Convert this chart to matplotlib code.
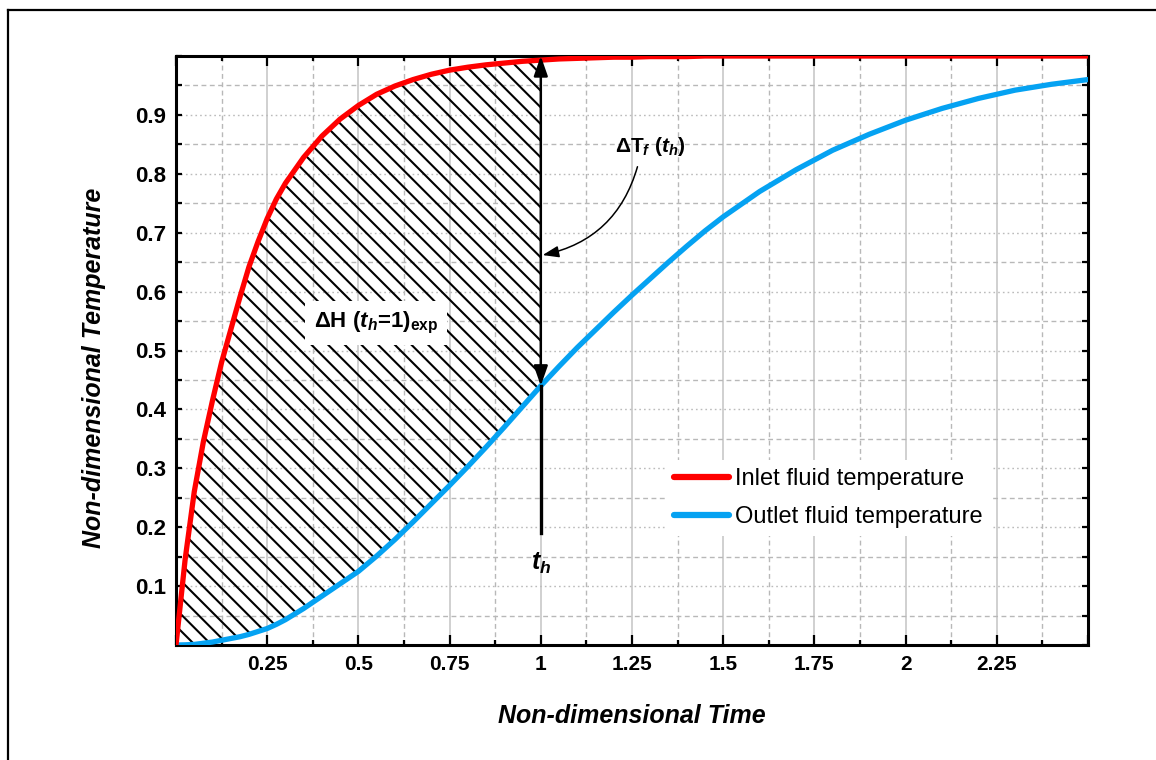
import numpy as np
import matplotlib
matplotlib.use("Agg")
import matplotlib.pyplot as plt
from matplotlib.lines import Line2D
from matplotlib.ticker import MultipleLocator, FixedLocator, FixedFormatter

plt.rcParams['font.family'] = ['Liberation Sans', 'DejaVu Sans']
plt.rcParams['font.weight'] = 'bold'
plt.rcParams['mathtext.fontset'] = 'custom'
plt.rcParams['mathtext.rm'] = 'Liberation Sans:bold'
plt.rcParams['mathtext.it'] = 'Liberation Sans:bold:italic'
plt.rcParams['mathtext.bf'] = 'Liberation Sans:bold'
plt.rcParams['hatch.linewidth'] = 1.5

# ---- data ----
time = [0, 0.025, 0.05, 0.075, 0.1, 0.125, 0.15, 0.175, 0.2, 0.225, 0.25, 0.275,
        0.3, 0.35, 0.4, 0.45, 0.5, 0.55, 0.6, 0.65, 0.7, 0.75, 0.8, 0.85, 0.9,
        0.95, 1.0, 1.05, 1.1, 1.15, 1.2, 1.25, 1.3, 1.35, 1.4, 1.45, 1.5, 1.6,
        1.7, 1.8, 1.9, 2.0, 2.1, 2.2, 2.3, 2.4, 2.5]
inlet = [0, 0.145, 0.26, 0.345, 0.415, 0.48, 0.535, 0.59, 0.642, 0.685, 0.724,
         0.757, 0.784, 0.828, 0.864, 0.893, 0.916, 0.935, 0.949, 0.960, 0.969,
         0.976, 0.981, 0.985, 0.988, 0.991, 0.993, 0.995, 0.996, 0.997, 0.998,
         0.998, 0.999, 0.999, 0.999, 1.0, 1.0, 1.0, 1.0, 1.0, 1.0, 1.0, 1.0, 1.0,
         1.0, 1.0, 1.0]
outlet = [0, 0.0003, 0.001, 0.003, 0.005, 0.008, 0.011, 0.014, 0.018, 0.023,
          0.028, 0.035, 0.043, 0.062, 0.083, 0.104, 0.125, 0.151, 0.179, 0.209,
          0.24, 0.271, 0.303, 0.336, 0.37, 0.405, 0.44, 0.473, 0.505, 0.535, 0.565,
          0.594, 0.622, 0.65, 0.677, 0.703, 0.727, 0.77, 0.807, 0.84, 0.867,
          0.891, 0.911, 0.928, 0.942, 0.952, 0.96]
series_labels = ['Inlet fluid temperature', 'Outlet fluid temperature']
x_ticks = [0, 0.25, 0.5, 0.75, 1, 1.25, 1.5, 1.75, 2, 2.25, 2.5]
x_tick_labels = ['', '0.25', '0.5', '0.75', '1', '1.25', '1.5', '1.75', '2', '2.25', '']
y_ticks = [0, 0.1, 0.2, 0.3, 0.4, 0.5, 0.6, 0.7, 0.8, 0.9, 1.0]
y_tick_labels = ['', '0.1', '0.2', '0.3', '0.4', '0.5', '0.6', '0.7', '0.8', '0.9', '']
t_h = 1.0
t_h_outlet = 0.44

red = '#FF0000'
blue = '#05A2F2'

fig = plt.figure(figsize=(11.56, 7.6), dpi=100)
ax = fig.add_axes([176 / 1156, (760 - 645) / 760, 912 / 1156, 589 / 760])

t = np.array(time)
yi = np.array(inlet)
yo = np.array(outlet)

# hatched area between curves up to t_h
mask = t <= t_h
ax.fill_between(t[mask], yo[mask], yi[mask], facecolor='none', edgecolor='black',
                hatch='\\\\', linewidth=0, zorder=2)

ax.plot(t, yo, color=blue, lw=3.8, label=series_labels[1], zorder=4, solid_capstyle='round')
ax.plot(t, yi, color=red, lw=3.8, label=series_labels[0], zorder=5, solid_capstyle='round')

# vertical marker at t_h
ax.plot([t_h, t_h], [0.19, t_h_outlet], color='black', lw=2.4, zorder=6)
ax.annotate('', xy=(t_h, 1.0), xytext=(t_h, t_h_outlet),
            arrowprops=dict(arrowstyle='<|-|>,head_length=0.8,head_width=0.28',
                            mutation_scale=15, lw=1.8, color='black',
                            shrinkA=0, shrinkB=0), zorder=6)
ax.annotate('', xy=(1.005, 0.662), xytext=(1.265, 0.812),
            arrowprops=dict(arrowstyle='-|>,head_length=0.7,head_width=0.25',
                            mutation_scale=14, lw=1.1, color='black',
                            connectionstyle='arc3,rad=-0.3', shrinkA=0, shrinkB=0),
            zorder=6)

ax.text(1.30, 0.846, 'ΔT$_{f}$ ($t_{h}$)', fontsize=15, ha='center', va='center', zorder=7)
ax.text(0.548, 0.547, 'ΔH ($t_{h}$=1$)_{\\mathrm{exp}}$', fontsize=16, ha='center', va='center',
        zorder=7, bbox=dict(boxstyle='square,pad=0.4', fc='white', ec='none'))
ax.text(t_h, 0.138, '$t_{h}$', fontsize=18, ha='center', va='center', zorder=7)

ax.set_xlim(0, 2.5)
ax.set_ylim(0, 1.0)

ax.xaxis.set_major_locator(FixedLocator(x_ticks))
ax.xaxis.set_major_formatter(FixedFormatter(x_tick_labels))
ax.xaxis.set_minor_locator(MultipleLocator(0.125))
ax.yaxis.set_major_locator(FixedLocator(y_ticks))
ax.yaxis.set_major_formatter(FixedFormatter(y_tick_labels))
ax.yaxis.set_minor_locator(MultipleLocator(0.05))

ax.xaxis.grid(True, which='major', color='#C4C4C4', ls='-', lw=1.1, zorder=0)
ax.xaxis.grid(True, which='minor', color='#B8B8B8', ls=(0, (3.5, 2.5)), lw=1.0, zorder=0)
ax.yaxis.grid(True, which='major', color='#BBBBBB', ls=(0, (1.2, 2.2)), lw=1.0, zorder=0)
ax.yaxis.grid(True, which='minor', color='#B8B8B8', ls=(0, (3.5, 2.5)), lw=1.0, zorder=0)
ax.set_axisbelow(True)

ax.tick_params(axis='both', which='both', direction='in', top=True, right=True,
               width=1.6, colors='black')
ax.tick_params(axis='x', which='major', length=7, pad=7, labelsize=15)
ax.tick_params(axis='x', which='minor', length=3.5)
ax.tick_params(axis='y', which='major', length=4, pad=7, labelsize=16)
ax.tick_params(axis='y', which='minor', length=4)
for s in ax.spines.values():
    s.set_linewidth(2.2)

ax.set_xlabel('Non-dimensional Time', fontsize=18, fontweight='bold', style='italic', labelpad=22)
ax.set_ylabel('Non-dimensional Temperature', fontsize=18, fontweight='bold', style='italic')
ax.yaxis.set_label_coords(-0.077, 0.47)

handles, labels = ax.get_legend_handles_labels()
order = [labels.index(series_labels[0]), labels.index(series_labels[1])]
leg = ax.legend([handles[i] for i in order], [labels[i] for i in order],
                loc='upper left', bbox_to_anchor=(0.537, 0.314), fontsize=17,
                frameon=True, framealpha=1, facecolor='white', edgecolor='none',
                fancybox=False, handlelength=2.35, handletextpad=0.22,
                labelspacing=0.66, borderpad=0.35, borderaxespad=0)
for txt in leg.get_texts():
    txt.set_fontweight('normal')
for ln in leg.get_lines():
    ln.set_linewidth(4.5)
leg.set_zorder(8)

# outer frame (top and left edges)
fig.add_artist(Line2D([8 / 1156, 1.0], [1 - 10 / 760, 1 - 10 / 760], color='black', lw=1.6))
fig.add_artist(Line2D([8 / 1156, 8 / 1156], [0, 1 - 10 / 760], color='black', lw=1.6))

fig.savefig('out.png', dpi=100)
